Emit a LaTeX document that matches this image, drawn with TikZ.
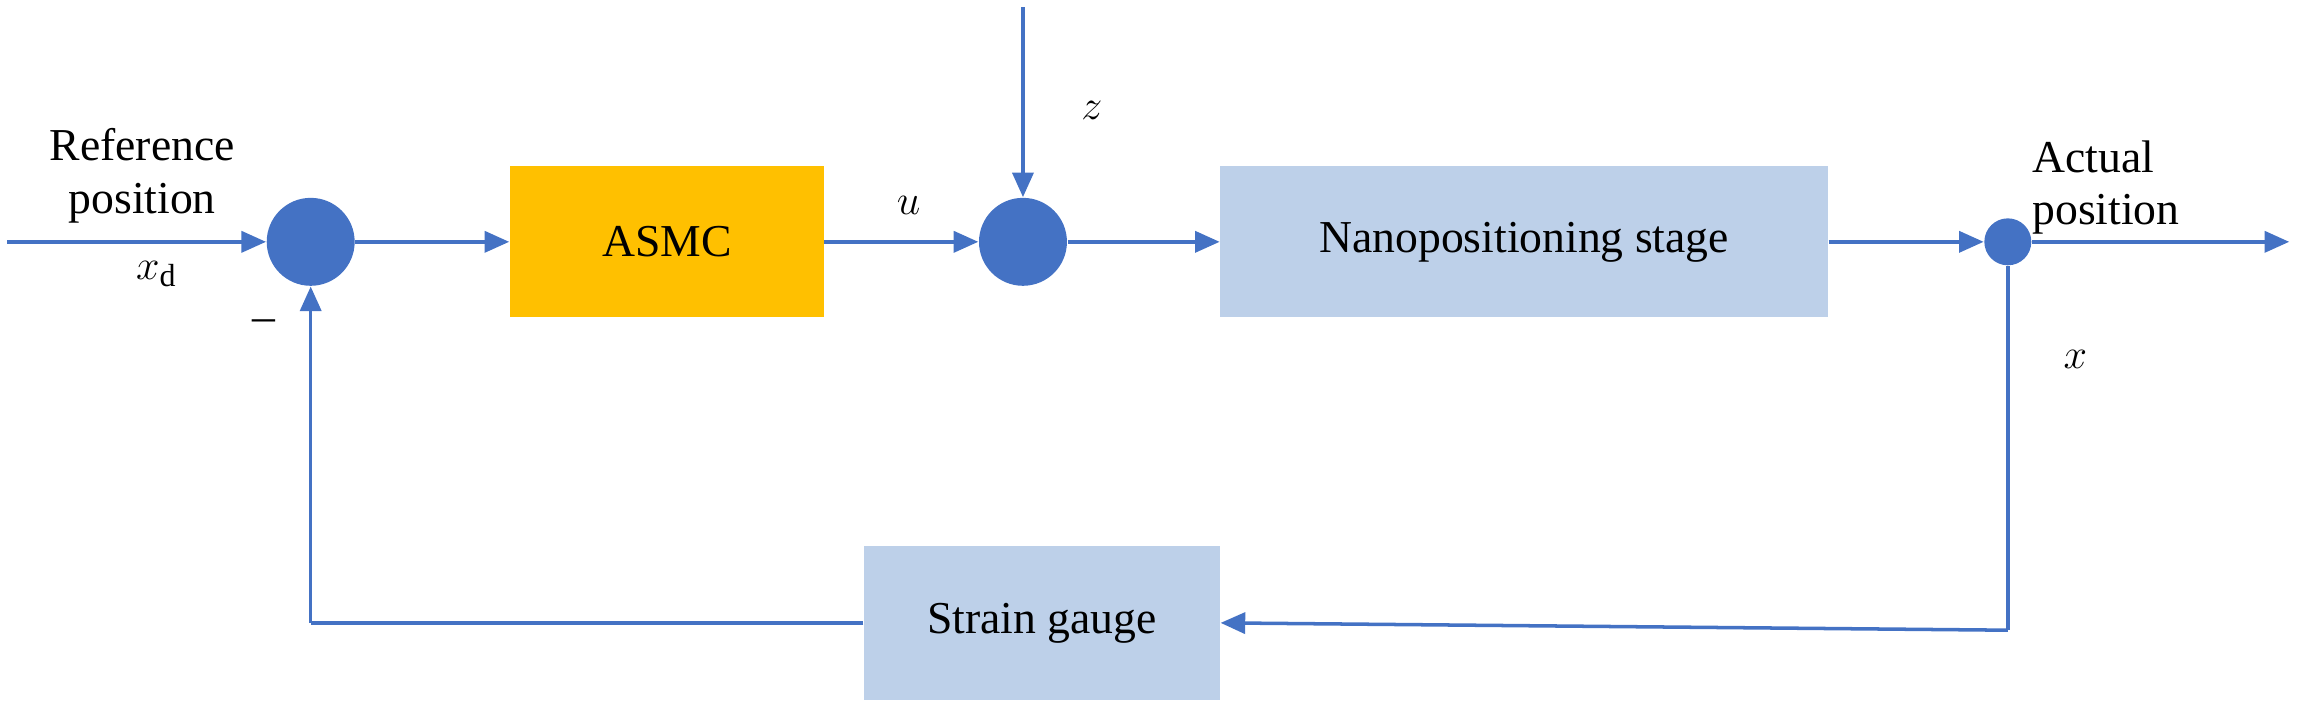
\documentclass[tikz,border=0pt]{standalone}
\usepackage{fontspec}
\setmainfont{Liberation Serif}
\usepackage{tikz}
\definecolor{lineblue}{RGB}{68,114,196}
\definecolor{boxorange}{RGB}{255,192,0}
\definecolor{boxblue}{RGB}{189,208,233}
\usetikzlibrary{arrows.meta,positioning,calc}

\begin{document}
\begin{tikzpicture}[x=0.01466cm, y=-0.01466cm,
    font=\fontsize{13}{15}\selectfont,
    block/.style={rectangle, draw=none, minimum height=1.51cm, inner sep=0pt},
    sum/.style={circle, fill=lineblue, minimum size=0.88cm, inner sep=0pt},
    arrow/.style={-{Triangle[length=7pt,width=6pt]}, draw=lineblue, line width=1pt},
    wire/.style={draw=lineblue, line width=1pt}
]
\useasboundingbox (0,0) rectangle (1568,487);

\coordinate (in) at (5,165);
\node[sum] (sumA) at (212,165) {};
\node[block, fill=boxorange, minimum width=3.14cm] (asmc) at (455,165) {ASMC};
\node[sum] (sumB) at (698,165) {};
\coordinate (dist) at (698,5);
\node[block, fill=boxblue, minimum width=6.08cm] (stage) at (1040,165) {Nanopositioning stage};
\node[circle, fill=lineblue, minimum size=0.47cm, inner sep=0pt] (pick) at (1370,165) {};
\coordinate (out) at (1562,165);
\node[block, fill=boxblue, minimum width=3.56cm, minimum height=1.54cm] (gauge) at (711,425) {Strain gauge};
\coordinate (cornerR) at (1370,430);
\coordinate (cornerL) at (212,425);

% signals
\draw[arrow] (in) -- (sumA);
\draw[arrow] (sumA) -- (asmc);
\draw[arrow] (asmc) -- (sumB);
\draw[arrow] (dist) -- (sumB);
\draw[arrow] (sumB) -- (stage);
\draw[arrow] (stage) -- (pick);
\draw[arrow] (pick) -- (out);
\draw[wire] (pick) -- (cornerR);
\draw[arrow] (cornerR) -- (gauge.east);
\draw[wire] (gauge.west) -- (cornerL);
\draw[arrow] (cornerL) -- (sumA);

% labels
\node[align=center] (reflbl) at (97,120) {Reference\\position};
\node (xdlbl) at (107,187) {$x_{\mathrm{d}}$};
\node (minus) at (180,222) {--};
\node (ulbl) at (620,140) {$u$};
\node (zlbl) at (745,75) {$z$};
\node[align=left] (actlbl) at (1437,128) {Actual\\position};
\node (xlbl) at (1416,245) {$x$};
\end{tikzpicture}
\end{document}
